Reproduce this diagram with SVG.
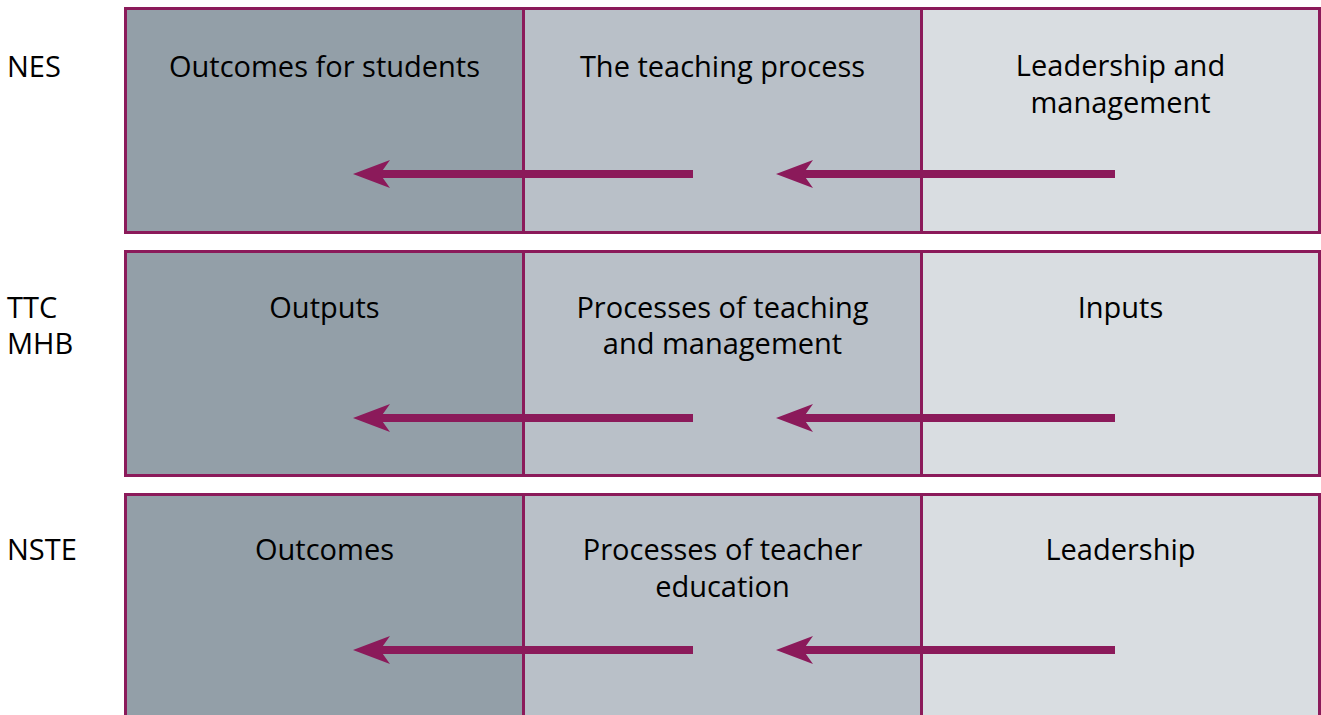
<svg xmlns="http://www.w3.org/2000/svg" width="1321" height="715" viewBox="0 0 1321 715">
<style>
.c1{fill:#939fa8}
.c2{fill:#b9c0c8}
.c3{fill:#d9dde1}
.bd{fill:none;stroke:#8b1a5a;stroke-width:3}
.dv{stroke:#8b1a5a;stroke-width:3}
text{font-family:"Open Sans","DejaVu Sans",sans-serif;font-size:29px;fill:#000}
.h{text-anchor:middle}
.sh{stroke:#8b1a5a;stroke-width:8}
.ah{fill:#8b1a5a}
</style>
<rect width="1321" height="715" fill="#fff"/>
<g id="row1">
<rect class="c1" x="125.5" y="8.5" width="398" height="224"/>
<rect class="c2" x="523.5" y="8.5" width="398" height="224"/>
<rect class="c3" x="921.5" y="8.5" width="398" height="224"/>
<rect class="bd" x="125.5" y="8.5" width="1194" height="224"/>
<line class="dv" x1="523.5" y1="8.5" x2="523.5" y2="232.5"/>
<line class="dv" x1="921.5" y1="8.5" x2="921.5" y2="232.5"/>
<text x="7" y="77">NES</text>
<text class="h" x="324.5" y="77">Outcomes for students</text>
<text class="h" x="722.5" y="77">The teaching process</text>
<text class="h" x="1120.5" y="76">Leadership and</text>
<text class="h" x="1120.5" y="113">management</text>
</g>
<g id="row2">
<rect class="c1" x="125.5" y="251.5" width="398" height="224"/>
<rect class="c2" x="523.5" y="251.5" width="398" height="224"/>
<rect class="c3" x="921.5" y="251.5" width="398" height="224"/>
<rect class="bd" x="125.5" y="251.5" width="1194" height="224"/>
<line class="dv" x1="523.5" y1="251.5" x2="523.5" y2="475.5"/>
<line class="dv" x1="921.5" y1="251.5" x2="921.5" y2="475.5"/>
<text x="7" y="318">TTC</text>
<text x="7" y="354">MHB</text>
<text class="h" x="324.5" y="318">Outputs</text>
<text class="h" x="722.5" y="318">Processes of teaching</text>
<text class="h" x="722.5" y="354">and management</text>
<text class="h" x="1120.5" y="318">Inputs</text>
</g>
<g id="row3">
<rect class="c1" x="125.5" y="494.5" width="398" height="230"/>
<rect class="c2" x="523.5" y="494.5" width="398" height="230"/>
<rect class="c3" x="921.5" y="494.5" width="398" height="230"/>
<rect class="bd" x="125.5" y="494.5" width="1194" height="230"/>
<line class="dv" x1="523.5" y1="494.5" x2="523.5" y2="724.5"/>
<line class="dv" x1="921.5" y1="494.5" x2="921.5" y2="724.5"/>
<text x="7" y="560">NSTE</text>
<text class="h" x="324.5" y="560">Outcomes</text>
<text class="h" x="722.5" y="560">Processes of teacher</text>
<text class="h" x="722.5" y="597">education</text>
<text class="h" x="1120.5" y="560">Leadership</text>
</g>
<g id="connectors">
<line class="sh" x1="380" y1="174" x2="693" y2="174"/>
<path class="ah" d="M353,174 L390,160 L380,174 L390,188 Z"/>
<line class="sh" x1="803" y1="174" x2="1115" y2="174"/>
<path class="ah" d="M776,174 L813,160 L803,174 L813,188 Z"/>
<line class="sh" x1="380" y1="418" x2="693" y2="418"/>
<path class="ah" d="M353,418 L390,404 L380,418 L390,432 Z"/>
<line class="sh" x1="803" y1="418" x2="1115" y2="418"/>
<path class="ah" d="M776,418 L813,404 L803,418 L813,432 Z"/>
<line class="sh" x1="380" y1="650" x2="693" y2="650"/>
<path class="ah" d="M353,650 L390,636 L380,650 L390,664 Z"/>
<line class="sh" x1="803" y1="650" x2="1115" y2="650"/>
<path class="ah" d="M776,650 L813,636 L803,650 L813,664 Z"/>
</g>
</svg>
